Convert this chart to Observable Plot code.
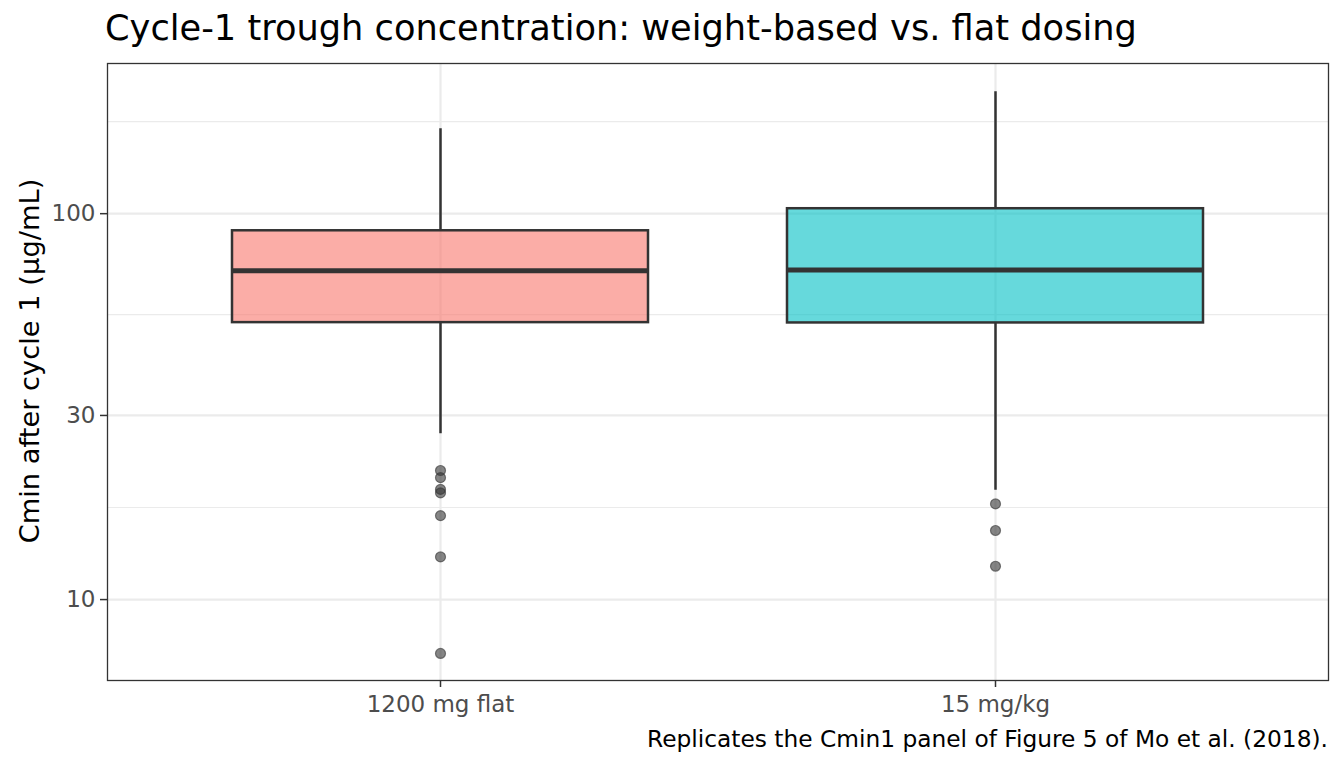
<!DOCTYPE html>
<html>
<head>
<meta charset="utf-8">
<script src="https://cdn.jsdelivr.net/npm/d3@7"></script>
<script src="https://cdn.jsdelivr.net/npm/@observablehq/plot@0.6"></script>
<style>
  html, body { margin: 0; padding: 0; background: #fff; }
  body { width: 1344px; height: 768px; overflow: hidden; font-family: "DejaVu Sans", sans-serif; position: relative; }
  #title { height: 62px; position: relative; }
  #title span { position: absolute; left: 105px; top: 7px; font-size: 35.2px; color: #000; white-space: nowrap; line-height: 1.2; }
  #caption { position: absolute; right: 16px; top: 725px; font-size: 23.3px; color: #000; white-space: nowrap; line-height: 1.2; }
  svg { display: block; }
</style>
</head>
<body>
<div id="title"><span>Cycle-1 trough concentration: weight-based vs. flat dosing</span></div>
<div id="chart"></div>
<div id="caption">Replicates the Cmin1 panel of Figure 5 of Mo et al. (2018).</div>
<script>
// ---- data ----
const groups = ["1200 mg flat", "15 mg/kg"];
const groupFills = ["#F8766D", "#00BFC4"];
const q1 = [52.2, 52.1];
const medians = [71.1, 71.5];
const q3 = [90.3, 103.0];
const whiskerLow = [26.9, 19.2];
const whiskerHigh = [166, 207];
const outliersFlat = [21.6, 20.7, 19.3, 18.9, 16.5, 12.9, 7.25];
const outliersWeight = [17.7, 15.1, 12.2];
const yTicks = [10, 30, 100];
const yTicksExtended = [10, 30, 100, 300];
const yDomain = [6.17, 245];
const yLabel = "Cmin after cycle 1 (µg/mL)";

// ---- build tables ----
const boxes = groups.map((g, i) => ({
  group: g, fill: groupFills[i], q1: q1[i], median: medians[i], q3: q3[i],
  lo: whiskerLow[i], hi: whiskerHigh[i]
}));
const outliers = [
  ...outliersFlat.map(v => ({group: groups[0], value: v})),
  ...outliersWeight.map(v => ({group: groups[1], value: v}))
];
// minor grid: geometric midpoints between consecutive major breaks (as ggplot does on log scale)
const minorTicks = d3.pairs(yTicksExtended).map(([a, b]) => Math.sqrt(a * b));

const plot = Plot.plot({
  width: 1344,
  height: 660,
  marginTop: 1,
  marginBottom: 42,
  marginLeft: 107,
  marginRight: 16,
  style: { fontFamily: "DejaVu Sans, sans-serif", background: "#fff" },
  x: { type: "band", domain: groups, paddingInner: 0.25, paddingOuter: 0.225, label: null },
  y: { type: "log", domain: yDomain, label: null },
  marks: [
    Plot.gridY(minorTicks, { stroke: "#EBEBEB", strokeOpacity: 1, strokeWidth: 1.2 }),
    Plot.gridY(yTicks, { stroke: "#EBEBEB", strokeOpacity: 1, strokeWidth: 2.2 }),
    Plot.gridX(groups, { stroke: "#EBEBEB", strokeOpacity: 1, strokeWidth: 2.2 }),
    Plot.ruleX(boxes, { x: "group", y1: "q3", y2: "hi", stroke: "#333333", strokeWidth: 2.5 }),
    Plot.ruleX(boxes, { x: "group", y1: "lo", y2: "q1", stroke: "#333333", strokeWidth: 2.5 }),
    Plot.barY(boxes, { x: "group", y1: "q1", y2: "q3", fill: d => d.fill, fillOpacity: 0.6, stroke: "#333333", strokeWidth: 2.5 }),
    Plot.tickY(boxes, { x: "group", y: "median", stroke: "#333333", strokeWidth: 5 }),
    Plot.dot(outliers, { x: "group", y: "value", r: 5, fill: "#333333", fillOpacity: 0.6, stroke: "#333333", strokeOpacity: 0.6, strokeWidth: 1.2 }),
    Plot.axisY(yTicks, { tickFormat: d => String(d), tickSize: 7, tickPadding: 5, fontSize: 23, fill: "#4D4D4D", stroke: "#333333", strokeWidth: 1.5, label: null }),
    Plot.axisX({ tickSize: 7, tickPadding: 8, fontSize: 23, fill: "#4D4D4D", stroke: "#333333", strokeWidth: 1.5, label: null }),
    Plot.text([yLabel], { frameAnchor: "left", dx: -77, dy: -11, rotate: -90, fontSize: 27.3, fill: "#000", lineAnchor: "middle", textAnchor: "middle" }),
    Plot.frame({ stroke: "#333333", strokeWidth: 1.3 })
  ]
});
document.getElementById("chart").appendChild(plot);
</script>
</body>
</html>
